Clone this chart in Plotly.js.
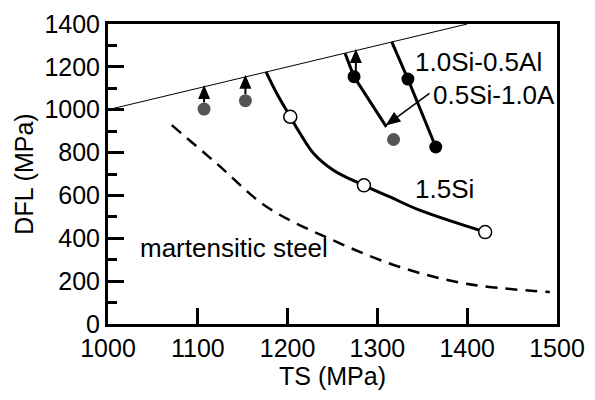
<!DOCTYPE html>
<html>
<head>
<meta charset="utf-8">
<script src="https://cdn.plot.ly/plotly-3.0.1.min.js"></script>
<style>html,body{margin:0;padding:0;background:#fff}#chart{width:595px;height:400px}</style>
</head>
<body>
<div id="chart"></div>
<script>
// reference line DFL = TS
const refTS = [1000, 1400];
const refDFL = [1000, 1400];
// 1.5Si curve
const siCurveTS = [1176, 1188, 1203, 1214, 1229, 1251, 1285, 1314, 1347, 1420];
const siCurveDFL = [1177, 1076, 967, 889, 796, 718, 647, 593, 531, 429];
const siPtsTS = [1203, 1285, 1420];
const siPtsDFL = [967, 647, 429];
// 0.5Si-1.0Al line
const midLineTS = [1264, 1274, 1310];
const midLineDFL = [1263, 1154, 920];
// 1.0Si-0.5Al line
const rightLineTS = [1316, 1334, 1365];
const rightLineDFL = [1317, 1143, 826];
const blackTS = [1274, 1334, 1365];
const blackDFL = [1154, 1143, 826];
const grayTS = [1107, 1153, 1318];
const grayDFL = [1003, 1042, 861];
// martensitic steel (dashed)
const martTS = [1071, 1121, 1177, 1251, 1325, 1399, 1492];
const martDFL = [928, 749, 546, 390, 266, 188, 149];
// upward arrows (lower bound markers)
const upArrowTS = [1107, 1153, 1276];
const upArrowFrom = [1034, 1073, 1178];
const upArrowTo = [1115, 1163, 1283];
// tick values
const xTicks = [1000, 1100, 1200, 1300, 1400, 1500];
const yTicks = [0, 200, 400, 600, 800, 1000, 1200, 1400];
// labels
const labels = [
  {text: "1.0Si-0.5Al", x: 1340, y: 1223},
  {text: "0.5Si-1.0A", x: 1360, y: 1068},
  {text: "1.5Si", x: 1340, y: 632},
  {text: "martensitic steel", x: 1033, y: 357}
];
const pointerTS = [1358, 1309];
const pointerDFL = [1076, 926];

const F = "Liberation Sans, Arial, Helvetica, sans-serif";
const traces = [
  {x: refTS, y: refDFL, mode: "lines", line: {color: "#000", width: 1}},
  {x: martTS, y: martDFL, mode: "lines", line: {color: "#000", width: 2.5, dash: "12px,8px", shape: "spline"}},
  {x: siCurveTS, y: siCurveDFL, mode: "lines", line: {color: "#000", width: 3, shape: "spline", smoothing: 1}},
  {x: midLineTS, y: midLineDFL, mode: "lines", line: {color: "#000", width: 3}},
  {x: rightLineTS, y: rightLineDFL, mode: "lines", line: {color: "#000", width: 3}},
  {x: siPtsTS, y: siPtsDFL, mode: "markers", marker: {size: 13, color: "#fff", line: {color: "#000", width: 1.5}}},
  {x: blackTS, y: blackDFL, mode: "markers", marker: {size: 13, color: "#000"}},
  {x: grayTS, y: grayDFL, mode: "markers", marker: {size: 13, color: "#555"}}
];
// arrow shafts
for (let i = 0; i < upArrowTS.length; i++) {
  traces.push({x: [upArrowTS[i], upArrowTS[i]], y: [upArrowFrom[i], upArrowTo[i] - 40], mode: "lines",
    line: {color: "#000", width: 2}});
}
traces.push({x: pointerTS, y: pointerDFL, mode: "lines", line: {color: "#000", width: 1.5}});

const annotations = labels.map(l => ({x: l.x, y: l.y, xref: "x", yref: "y", text: l.text,
  showarrow: false, xanchor: "left", yanchor: "middle", font: {family: F, size: 26, color: "#000"}}));

const axisCommon = {
  showgrid: false, zeroline: false, showline: true, linecolor: "#000", linewidth: 3,
  mirror: true, ticks: "inside", ticklen: 16, tickwidth: 3, tickcolor: "#000",
  tickfont: {family: F, size: 25, color: "#000"}
};

const layout = {
  width: 595, height: 400,
  margin: {l: 108, r: 38, t: 24, b: 76},
  paper_bgcolor: "#fff", plot_bgcolor: "#fff",
  showlegend: false,
  xaxis: Object.assign({}, axisCommon, {range: [1000, 1500], tickvals: xTicks,
    title: {text: "TS (MPa)", font: {family: F, size: 25, color: "#000"}, standoff: 7}}),
  yaxis: Object.assign({}, axisCommon, {range: [0, 1400], tickvals: yTicks,
    minor: {ticks: "inside", ticklen: 9, tickwidth: 3, tickcolor: "#000", dtick: 100, tick0: 0},
    title: {text: "DFL (MPa)", font: {family: F, size: 25, color: "#000"}, standoff: 4}}),
  annotations: annotations
};

// arrowhead: triangle in pixel units, tip at the data point
function head(tipX, tipY, dirX, dirY, len, wid) {
  const n = Math.hypot(dirX, dirY), ux = dirX / n, uy = dirY / n;
  const bx = -ux * len, by = -uy * len, px = -uy * wid / 2, py = ux * wid / 2;
  return {type: "path", xref: "x", yref: "y", xsizemode: "pixel", ysizemode: "pixel",
    xanchor: tipX, yanchor: tipY,
    path: `M0,0 L${(bx + px).toFixed(2)},${(by + py).toFixed(2)} L${(bx - px).toFixed(2)},${(by - py).toFixed(2)} Z`,
    fillcolor: "#000", line: {width: 0}};
}

const gd = document.getElementById("chart");
Plotly.newPlot(gd, traces, layout, {displayModeBar: false, staticPlot: true}).then(() => {
  const xa = gd._fullLayout.xaxis, ya = gd._fullLayout.yaxis;
  const shapes = [];
  for (let i = 0; i < upArrowTS.length; i++) shapes.push(head(upArrowTS[i], upArrowTo[i], 0, 1, 14, 12));
  const dx = xa.c2p(pointerTS[1]) - xa.c2p(pointerTS[0]);
  const dy = -(ya.c2p(pointerDFL[1]) - ya.c2p(pointerDFL[0]));
  shapes.push(head(pointerTS[1], pointerDFL[1], dx, dy, 15, 12));
  return Plotly.relayout(gd, {shapes: shapes});
});
</script>
</body>
</html>
